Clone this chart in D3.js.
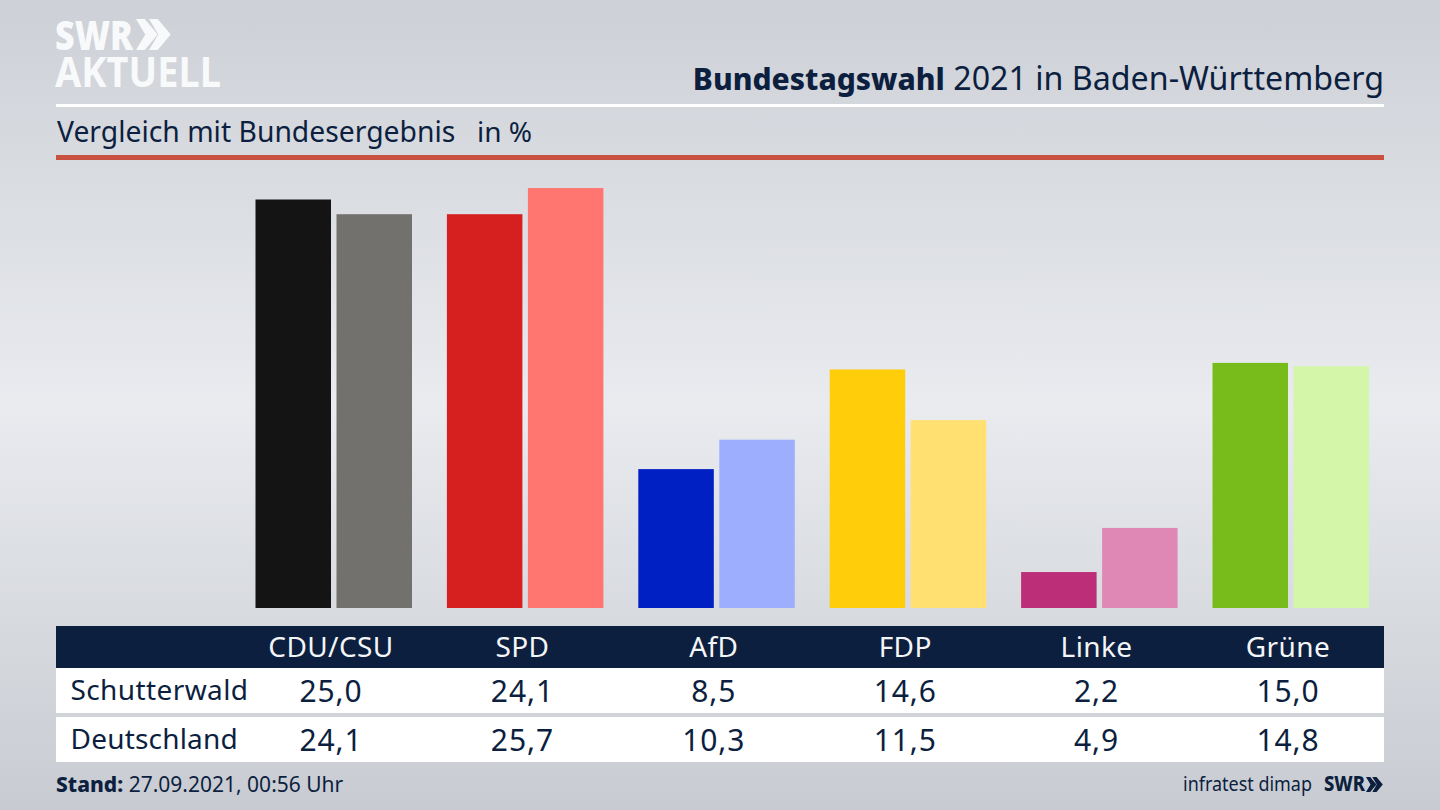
<!DOCTYPE html>
<html>
<head>
<meta charset="utf-8">
<script src="https://cdnjs.cloudflare.com/ajax/libs/d3/7.8.5/d3.min.js"></script>
<style>
html, body { margin: 0; padding: 0; overflow: hidden; }
text { font-family: "Noto Sans", sans-serif; }
</style>
</head>
<body>
<div id="chart"></div>
<script>
const parties = ["CDU/CSU", "SPD", "AfD", "FDP", "Linke", "Grüne"];
const schutterwald = [25.0, 24.1, 8.5, 14.6, 2.2, 15.0];
const deutschland = [24.1, 25.7, 10.3, 11.5, 4.9, 14.8];
const colorsLocal = ["#141414", "#d61f1f", "#0020c4", "#ffcd0a", "#bc2e78", "#78bc1c"];
const colorsFederal = ["#72716e", "#ff7570", "#9eaeff", "#ffe070", "#df88b6", "#d3f6a8"];
const rowLabels = ["Schutterwald", "Deutschland"];

const width = 1440, height = 810;
const navy = "#0c1f3f";
const left = 56, right = 1384;

function fmt(v) {
    return v.toFixed(1).replace(".", ",");
}

const svg = d3.select("#chart").append("svg")
    .attr("width", width)
    .attr("height", height)
    .style("display", "block");

// background
const grad = svg.append("defs").append("linearGradient")
    .attr("id", "bg").attr("x1", 0).attr("x2", 0).attr("y1", 0).attr("y2", 1);
grad.append("stop").attr("offset", "0%").attr("stop-color", "#cdd0d6");
grad.append("stop").attr("offset", "50%").attr("stop-color", "#e9ebef");
grad.append("stop").attr("offset", "100%").attr("stop-color", "#c8cbd1");
svg.append("rect").attr("width", width).attr("height", height).attr("fill", "url(#bg)");

const x = d3.scalePoint().domain(parties).range([331, 1288]);
const y = d3.scaleLinear().domain([0, 25]).range([608, 199.5]);
const barW = 75.5, barGap = 5.5;

// logo
function chevrons(g, px, py, s, color) {
    [0, 0.42].forEach(o => {
        g.append("path")
            .attr("d", `M${px + o * s},${py} l${s * 0.28},0 l${s * 0.42},${s * 0.5} l${-s * 0.42},${s * 0.5} l${-s * 0.28},0 l${s * 0.3},${-s * 0.5} z`)
            .attr("fill", color);
    });
}
const logo = svg.append("g");
logo.append("text").attr("x", 55).attr("y", 50)
    .attr("font-size", 41).attr("font-weight", 900).attr("fill", "#f8f9fa")
    .attr("textLength", 78).attr("lengthAdjust", "spacingAndGlyphs").text("SWR");
chevrons(logo, 136, 19, 31, "#f8f9fa");
logo.append("text").attr("x", 55).attr("y", 87)
    .attr("font-size", 41).attr("font-weight", 700).attr("fill", "#f8f9fa")
    .attr("textLength", 166).attr("lengthAdjust", "spacingAndGlyphs").text("AKTUELL");

// header
const title = svg.append("text").attr("x", right).attr("y", 90)
    .attr("text-anchor", "end").attr("fill", navy);
title.append("tspan").attr("font-size", 30).attr("font-weight", 800).text("Bundestagswahl");
title.append("tspan").attr("font-size", 32.2).text(" 2021 in Baden-Württemberg");
svg.append("rect").attr("x", left).attr("y", 104).attr("width", right - left).attr("height", 3).attr("fill", "#fff");
svg.append("text").attr("x", 57).attr("y", 142).attr("font-size", 28.3).attr("fill", navy)
    .text("Vergleich mit Bundesergebnis");
svg.append("text").attr("x", 477).attr("y", 142).attr("font-size", 28).attr("fill", navy).text("in %");
svg.append("rect").attr("x", left).attr("y", 155).attr("width", right - left).attr("height", 5).attr("fill", "#c9513f");

// bars
svg.append("g").selectAll("rect").data(parties).join("rect")
    .attr("x", d => x(d) - barW)
    .attr("y", (d, i) => y(schutterwald[i]))
    .attr("width", barW)
    .attr("height", (d, i) => y(0) - y(schutterwald[i]))
    .attr("fill", (d, i) => colorsLocal[i]);
svg.append("g").selectAll("rect").data(parties).join("rect")
    .attr("x", d => x(d) + barGap)
    .attr("y", (d, i) => y(deutschland[i]))
    .attr("width", barW)
    .attr("height", (d, i) => y(0) - y(deutschland[i]))
    .attr("fill", (d, i) => colorsFederal[i]);

// table
svg.append("rect").attr("x", left).attr("y", 626).attr("width", right - left).attr("height", 42).attr("fill", navy);
svg.append("rect").attr("x", left).attr("y", 668).attr("width", right - left).attr("height", 45).attr("fill", "#fff");
svg.append("rect").attr("x", left).attr("y", 717).attr("width", right - left).attr("height", 45).attr("fill", "#fff");

svg.append("g").selectAll("text").data(parties).join("text")
    .attr("x", d => x(d)).attr("y", 656.5)
    .attr("text-anchor", "middle").attr("font-size", 28).attr("letter-spacing", 0.4).attr("fill", "#f4f5f7")
    .text(d => d);

[schutterwald, deutschland].forEach((row, r) => {
    const baseY = [702, 751][r];
    svg.append("text").attr("x", 70.5).attr("y", baseY - 2)
        .attr("font-size", 28).attr("letter-spacing", r ? 0.2 : 0.4).attr("fill", navy).text(rowLabels[r]);
    svg.append("g").selectAll("text").data(row).join("text")
        .attr("x", (d, i) => x(parties[i])).attr("y", baseY)
        .attr("text-anchor", "middle").attr("font-size", 30).attr("letter-spacing", 0.9).attr("fill", navy)
        .text(fmt);
});

// footer
const stand = svg.append("text").attr("x", 56).attr("y", 792).attr("fill", navy);
stand.append("tspan").attr("font-size", 21).attr("font-weight", 800).text("Stand:");
stand.append("tspan").attr("font-size", 21).text(" 27.09.2021, 00:56 Uhr");
svg.append("text").attr("x", 1183).attr("y", 791)
    .attr("font-size", 20).attr("fill", navy)
    .attr("textLength", 129).attr("lengthAdjust", "spacingAndGlyphs").text("infratest dimap");
svg.append("text").attr("x", 1324).attr("y", 791).attr("font-size", 21).attr("font-weight", 800)
    .attr("fill", navy).attr("textLength", 41).attr("lengthAdjust", "spacingAndGlyphs").text("SWR");
chevrons(svg.append("g"), 1366, 777, 15, navy);
</script>
</body>
</html>
